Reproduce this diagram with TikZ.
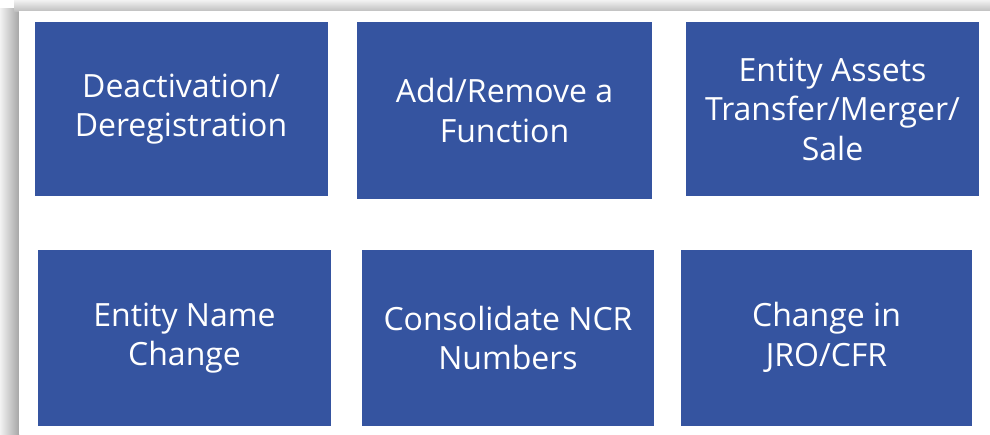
\documentclass[tikz,border=0pt]{standalone}
\usepackage{fontspec}
\setmainfont{Open Sans}
\begin{document}
\begin{tikzpicture}[x=1pt,y=-1pt,
  tile/.style={fill=tileblue, draw=none, text=white, align=center,
    font=\fontsize{32}{39.5}\selectfont, inner sep=0pt}]
\definecolor{tileblue}{RGB}{53,84,160}
\useasboundingbox (0,0) rectangle (990,434);
\fill[white] (0,0) rectangle (990,434);
% frame shadow
\shade[left color=white!90!gray, right color=gray!70] (0,8) rectangle (19,434);
\shade[top color=white!90!gray, bottom color=gray!50] (14,0) rectangle (990,11);
\fill[white] (19,11) rectangle (990,434);
% tiles
\node[tile, minimum width=293, minimum height=174] (t1) at (181,109) {Deactivation/\\Deregistration};
\node[tile, minimum width=295, minimum height=177] (t2) at (504.5,110.5) {Add/Remove a\\Function};
\node[tile, minimum width=293, minimum height=174] (t3) at (832.5,109) {Entity Assets\\Transfer/Merger/\\Sale};
\node[tile, minimum width=293, minimum height=176] (t4) at (184.5,338) {Entity Name\\Change};
\node[tile, minimum width=292, minimum height=176] (t5) at (508,338) {Consolidate NCR\\Numbers};
\node[tile, minimum width=291, minimum height=176] (t6) at (826.5,337.5) {Change in\\JRO/CFR};
\end{tikzpicture}
\end{document}
